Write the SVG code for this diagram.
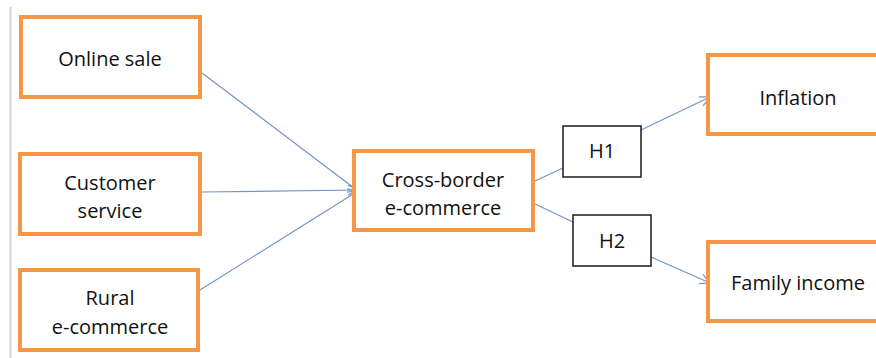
<svg xmlns="http://www.w3.org/2000/svg" width="876" height="358" viewBox="0 0 876 358">
<style>
.box{fill:#fff;stroke:#f79646;stroke-width:4}
.hbox{fill:#fff;stroke:#1a1a1a;stroke-width:1.5}
.t{font-family:"Open Sans","Liberation Sans",sans-serif;font-size:20px;fill:#111;text-anchor:middle;dominant-baseline:central}
.c{stroke:#7393c8;stroke-width:1.2;fill:none}
</style>
<defs>
<marker id="arr" markerWidth="12" markerHeight="12" refX="11" refY="6" orient="auto" markerUnits="userSpaceOnUse">
<path d="M1,1 L11,6 L1,11" fill="none" stroke="#7393c8" stroke-width="1.2"/>
</marker>
</defs>
<rect width="876" height="358" fill="#fff"/>
<line x1="10.5" y1="7" x2="10.5" y2="358" stroke="#d4d4d4" stroke-width="2"/>
<g id="connectors">
<line class="c" x1="202" y1="73" x2="358" y2="191" marker-end="url(#arr)"/>
<line class="c" x1="202" y1="192" x2="358" y2="190" marker-end="url(#arr)"/>
<line class="c" x1="200" y1="290" x2="358" y2="191" marker-end="url(#arr)"/>
<line class="c" x1="535" y1="181" x2="563" y2="168"/>
<line class="c" x1="641" y1="130" x2="710" y2="97" marker-end="url(#arr)"/>
<line class="c" x1="535" y1="204" x2="573" y2="222"/>
<line class="c" x1="651" y1="257" x2="710" y2="283" marker-end="url(#arr)"/>
</g>
<g id="online-sale"><rect class="box" x="21" y="17" width="179" height="80"/><text class="t" x="110" y="58">Online sale</text></g>
<g id="customer-service"><rect class="box" x="20" y="154" width="180" height="80"/><text class="t" x="110" y="182">Customer</text><text class="t" x="110" y="210">service</text></g>
<g id="rural-ecommerce"><rect class="box" x="20" y="270" width="178" height="80"/><text class="t" x="110" y="297">Rural</text><text class="t" x="110" y="326">e-commerce</text></g>
<g id="cross-border"><rect class="box" x="354" y="151" width="179" height="79"/><text class="t" x="443" y="179">Cross-border</text><text class="t" x="443" y="207">e-commerce</text></g>
<g id="h1"><rect class="hbox" x="563" y="126" width="78" height="51"/><text class="t" x="602" y="150">H1</text></g>
<g id="h2"><rect class="hbox" x="573" y="215" width="78" height="51"/><text class="t" x="612" y="240">H2</text></g>
<g id="inflation"><rect class="box" x="708" y="55" width="172" height="79"/><text class="t" x="798" y="97">Inflation</text></g>
<g id="family-income"><rect class="box" x="708" y="242" width="172" height="79"/><text class="t" x="798" y="282">Family income</text></g>
</svg>
